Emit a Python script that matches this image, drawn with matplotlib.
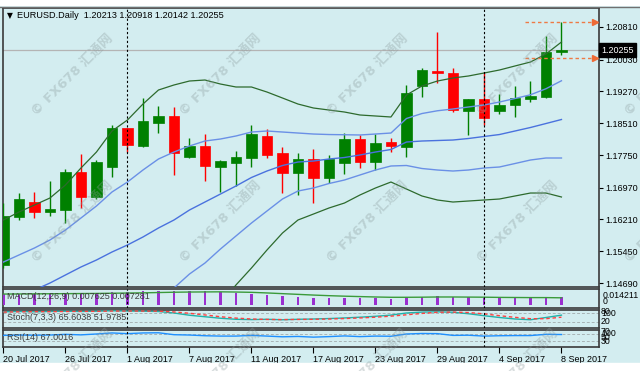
import matplotlib
matplotlib.use("Agg")
import matplotlib.pyplot as plt
import matplotlib.transforms as mtransforms
import numpy as np
import pandas as pd

# ---- data ----
dates = pd.bdate_range("2017-07-20", "2017-09-08")

opens = [1.15122, 1.16269, 1.16628, 1.16389, 1.16436, 1.17345, 1.16747, 1.17464, 1.18396, 1.17966,
         1.18516, 1.18683, 1.17703, 1.17966, 1.17464, 1.17560, 1.17679, 1.18205, 1.17799, 1.17321,
         1.17655, 1.17201, 1.17560, 1.18133, 1.17584, 1.18062, 1.17942, 1.19400, 1.19758, 1.19711,
         1.18802, 1.19089, 1.18802, 1.18946, 1.19089, 1.19137, 1.20213]
highs = [1.16604, 1.16843, 1.16867, 1.17129, 1.17416, 1.17775, 1.17631, 1.18468, 1.18400, 1.19113,
         1.18922, 1.18898, 1.18157, 1.18253, 1.17631, 1.17846, 1.18468, 1.18372, 1.17942, 1.17799,
         1.17894, 1.17751, 1.18277, 1.18229, 1.18253, 1.18157, 1.19424, 1.19830, 1.20691, 1.19830,
         1.19089, 1.19735, 1.19209, 1.19400, 1.19519, 1.20595, 1.20918]
lows = [1.15050, 1.16197, 1.16245, 1.16293, 1.16126, 1.16484, 1.16699, 1.17225, 1.17823, 1.17942,
        1.18277, 1.17273, 1.17679, 1.17129, 1.16867, 1.17010, 1.17464, 1.17679, 1.16843, 1.16795,
        1.16604, 1.17082, 1.17297, 1.17440, 1.17392, 1.17823, 1.17703, 1.19137, 1.19472, 1.18779,
        1.18229, 1.18468, 1.18731, 1.18659, 1.19018, 1.19113, 1.20142]
closes = [1.16293, 1.16699, 1.16389, 1.16460, 1.17345, 1.16747, 1.17584, 1.18396, 1.17990, 1.18563,
          1.18683, 1.17799, 1.17966, 1.17488, 1.17607, 1.17703, 1.18253, 1.17751, 1.17321, 1.17655,
          1.17201, 1.17655, 1.18133, 1.17584, 1.18038, 1.17966, 1.19233, 1.19782, 1.19711, 1.18826,
          1.19089, 1.18635, 1.18946, 1.19113, 1.19161, 1.20213, 1.20255]

# bands (outer dark green, inner blue, middle blue)
band_up2 = [1.16197, 1.16388, 1.16556, 1.16723, 1.17034, 1.17440, 1.17822, 1.18324, 1.18587, 1.18969,
            1.19304, 1.19424, 1.19519, 1.19543, 1.19447, 1.19376, 1.19376, 1.19256, 1.19113, 1.18969,
            1.18874, 1.18826, 1.18778, 1.18707, 1.18683, 1.18659, 1.19185, 1.19400, 1.19519, 1.19591,
            1.19639, 1.19710, 1.19782, 1.19878, 1.19973, 1.20164, 1.20451]
band_up1 = [1.15193, 1.15361, 1.15528, 1.15719, 1.15958, 1.16245, 1.16532, 1.16866, 1.17105, 1.17392,
            1.17655, 1.17822, 1.17966, 1.18085, 1.18133, 1.18205, 1.18300, 1.18324, 1.18300, 1.18276,
            1.18252, 1.18240, 1.18235, 1.18229, 1.18252, 1.18276, 1.18623, 1.18742, 1.18808, 1.18850,
            1.18898, 1.18946, 1.19017, 1.19101, 1.19190, 1.19334, 1.19525]
band_mid = [1.14166, 1.14333, 1.14524, 1.14691, 1.14883, 1.15074, 1.15241, 1.15432, 1.15600, 1.15791,
            1.16006, 1.16197, 1.16436, 1.16627, 1.16818, 1.17010, 1.17213, 1.17368, 1.17500, 1.17583,
            1.17607, 1.17655, 1.17691, 1.17751, 1.17822, 1.17882, 1.18061, 1.18085, 1.18097, 1.18109,
            1.18145, 1.18193, 1.18240, 1.18324, 1.18408, 1.18503, 1.18599]
band_lo1 = [1.13138, 1.13305, 1.13520, 1.13664, 1.13807, 1.13903, 1.13950, 1.13998, 1.14094, 1.14189,
            1.14357, 1.14572, 1.14906, 1.15169, 1.15504, 1.15815, 1.16125, 1.16412, 1.16699, 1.16890,
            1.16962, 1.17069, 1.17153, 1.17273, 1.17392, 1.17488, 1.17500, 1.17428, 1.17392, 1.17368,
            1.17392, 1.17440, 1.17464, 1.17547, 1.17631, 1.17679, 1.17679]
band_lo2 = [1.12134, 1.12277, 1.12493, 1.12660, 1.12732, 1.12708, 1.12660, 1.12540, 1.12612, 1.12612,
            1.12708, 1.12971, 1.13353, 1.13711, 1.14189, 1.14644, 1.15050, 1.15480, 1.15886, 1.16197,
            1.16340, 1.16484, 1.16603, 1.16795, 1.16962, 1.17105, 1.16938, 1.16771, 1.16675, 1.16627,
            1.16651, 1.16675, 1.16699, 1.16771, 1.16842, 1.16842, 1.16747]

macd_main = [0.0112, 0.0113, 0.0114, 0.0116, 0.0118, 0.0120, 0.0122, 0.0126, 0.0130, 0.0136,
             0.0140, 0.0142, 0.0141, 0.0138, 0.0133, 0.0124, 0.0115, 0.0098, 0.0088, 0.0080,
             0.0074, 0.0070, 0.0069, 0.0068, 0.0068, 0.0066, 0.0078, 0.0084, 0.0086, 0.0080,
             0.0076, 0.0074, 0.0072, 0.0073, 0.0073, 0.0075, 0.007625]
macd_signal = [0.0110, 0.0111, 0.0112, 0.0113, 0.0114, 0.0115, 0.0116, 0.0118, 0.0120, 0.0122,
               0.0125, 0.0128, 0.0130, 0.0131, 0.0132, 0.0130, 0.0127, 0.0121, 0.0114, 0.0107,
               0.0100, 0.0094, 0.0089, 0.0085, 0.0081, 0.0078, 0.0078, 0.0079, 0.0081, 0.0081,
               0.0080, 0.0079, 0.0077, 0.0076, 0.0075, 0.0075, 0.007281]
stoch_main = [88, 90, 88, 90, 92, 90, 92, 95, 93, 92, 90, 80, 65, 55, 45, 38, 36, 38, 35, 38,
              40, 43, 47, 52, 58, 66, 80, 86, 88, 85, 75, 62, 50, 40, 35, 50, 65.6]
stoch_signal = [86, 88, 89, 89, 90, 91, 91, 93, 93, 93, 92, 87, 78, 67, 55, 46, 40, 37, 36, 37,
                38, 40, 43, 47, 52, 59, 68, 77, 85, 86, 83, 74, 62, 51, 42, 42, 52.0]
rsi = [62, 64, 63, 64, 68, 65, 70, 76, 72, 76, 77, 66, 64, 60, 58, 58, 62, 58, 54, 56,
       52, 55, 59, 55, 58, 57, 70, 73, 72, 62, 63, 58, 60, 61, 61, 68, 67.0]

price_ticks = [1.20810, 1.20030, 1.19270, 1.18510, 1.17750, 1.16970, 1.16210, 1.15450, 1.14690]
last_price = 1.20255
day_high_line = 1.20918
day_low_line = 1.20080
date_ticks = ["2017-07-20", "2017-07-26", "2017-08-01", "2017-08-07", "2017-08-11",
              "2017-08-17", "2017-08-23", "2017-08-29", "2017-09-04", "2017-09-08"]
month_seps = ["2017-08-01", "2017-09-01"]

# ---- figure ----
BG = "#d3edf0"
W, H = 640, 371
plt.rcParams["font.family"] = ["Liberation Sans", "DejaVu Sans"]
fig = plt.figure(figsize=(6.4, 3.71), dpi=100, facecolor=BG)


def px_axes(x0, y0, x1, y1):
    return fig.add_axes([x0 / W, 1 - y1 / H, (x1 - x0) / W, (y1 - y0) / H])


ax = px_axes(3, 8, 598.5, 287)
ax_macd = px_axes(3, 289, 598.5, 307.5)
ax_sto = px_axes(3, 309.5, 598.5, 327.5)
ax_rsi = px_axes(3, 329.5, 598.5, 347)

x = np.arange(len(dates))
idx = {d: i for i, d in enumerate(dates)}
xlim = (-0.03, 38.39)

for a in (ax, ax_macd, ax_sto, ax_rsi):
    a.set_facecolor(BG)
    a.set_xlim(*xlim)
    for s in a.spines.values():
        s.set_color("#3a3a3a")
        s.set_linewidth(1.2)
    a.tick_params(left=False, labelleft=False, bottom=False, labelbottom=False)
    for d in month_seps:
        a.axvline(idx[pd.Timestamp(d)], color="black", lw=0.8, ls=(0, (2, 2)), zorder=6)

# main chart
o = np.array(opens); c = np.array(closes)
up = c >= o
cols = np.where(up, "#008000", "#ff0000")
ax.axhline(last_price, color="#b4b4b4", lw=0.9, zorder=1)
ax.vlines(x, lows, highs, colors=cols, lw=1.0, zorder=3)
ax.bar(x, np.maximum(np.abs(c - o), 0.00007), bottom=np.minimum(o, c), width=0.68,
       color=cols, edgecolor=cols, linewidth=0.5, zorder=4)
ax.plot(x, band_up2, color="#2d6a2d", lw=0.9, zorder=5)
ax.plot(x, band_lo2, color="#2d6a2d", lw=0.9, zorder=5)
ax.plot(x, band_up1, color="#6a90e6", lw=1.0, zorder=5)
ax.plot(x, band_lo1, color="#6a90e6", lw=1.0, zorder=5)
ax.plot(x, band_mid, color="#4a72de", lw=1.0, zorder=5)

lx = [33.65, 38.05]
for lvl in (day_high_line, day_low_line):
    ax.plot(lx, [lvl, lvl], color="#ee7a45", lw=1.0, ls=(0, (2.5, 2)), zorder=6)
    ax.plot([38.15], [lvl], marker=">", ms=4, color="#ee6a35", zorder=6, clip_on=False)

ax.set_ylim(1.14596, 1.21264)
ax.yaxis.tick_right()
ax.set_yticks(price_ticks, [f"{p:.5f}" for p in price_ticks])
ax.tick_params(axis="y", right=True, labelright=True, length=3, width=0.8, pad=2,
               labelsize=6.5, colors="black")
trans = mtransforms.blended_transform_factory(ax.transAxes, ax.transData)
ax.text(1.0 + 2.5 / 595.5, last_price, f"{last_price:.5f}", transform=trans, ha="left",
        va="center", color="white", fontsize=6.5, zorder=10, clip_on=False,
        bbox=dict(boxstyle="square,pad=0.25", fc="black", ec="black"))

# MACD
ax_macd.bar(x, macd_main, width=0.14, color="#9b30d0", zorder=3)
ax_macd.plot(x, macd_signal, color="#3a9a3a", lw=1.0, zorder=4)
ax_macd.set_ylim(-0.0023, 0.0160)

# Stochastic
ax_sto.axhline(80, color="#a8b4b6", lw=0.7, ls=(0, (3, 2)))
ax_sto.axhline(20, color="#a8b4b6", lw=0.7, ls=(0, (3, 2)))
ax_sto.plot(x, stoch_main, color="#20b2aa", lw=1.0, zorder=3)
ax_sto.plot(x, stoch_signal, color="#ff4040", lw=1.0, ls=(0, (2.5, 2)), zorder=4)
ax_sto.set_ylim(-16.7, 103.3)

# RSI
ax_rsi.axhline(70, color="#a8b4b6", lw=0.7, ls=(0, (3, 2)))
ax_rsi.axhline(30, color="#a8b4b6", lw=0.7, ls=(0, (3, 2)))
ax_rsi.plot(x, rsi, color="#1e90ff", lw=1.0, zorder=3)
ax_rsi.set_ylim(-4.4, 95.7)

tick_pos = [idx[pd.Timestamp(d)] for d in date_ticks]
tick_lab = [pd.Timestamp(d).strftime("%-d %b %Y") for d in date_ticks]
ax_rsi.set_xticks(tick_pos, tick_lab)
ax_rsi.tick_params(axis="x", bottom=True, labelbottom=True, length=4, width=0.8,
                   pad=1.5, labelsize=6.5, colors="black")
for t in ax_rsi.get_xticklabels():
    t.set_ha("left")

# texts in figure pixels
def ftext(px, py, s, **kw):
    fig.text(px / W, 1 - py / H, s, va="center", **kw)

ftext(7, 16, "\u25bc", fontsize=5.5, color="black", family=["DejaVu Sans"])
ftext(17, 16, "EURUSD.Daily  1.20213 1.20918 1.20142 1.20255", fontsize=6.6, color="black")
ftext(7, 296.5, "MACD(12,26,9) 0.007625 0.007281", fontsize=6.5, color="#3c3c3c")
ftext(7, 317.5, "Stoch(7,3,3) 65.6038 51.9785", fontsize=6.5, color="#3c3c3c")
ftext(7, 337.5, "RSI(14) 67.0016", fontsize=6.5, color="#3c3c3c")
for s, py in [("0.014211", 295), ("0", 301)]:
    ftext(603, py, s, fontsize=6.3, color="black")
for s, py in [("80", 312), ("100", 313.5), ("20", 322)]:
    ftext(601, py, s, fontsize=6.3, color="black")
for s, py in [("70", 332), ("100", 333.5), ("50", 337), ("30", 341)]:
    ftext(601, py, s, fontsize=6.3, color="black")

# white margins and top border
fig.patches.append(plt.Rectangle((0, 1 - 5 / H), 1, 5 / H, transform=fig.transFigure,
                                 color="white", zorder=0))
fig.patches.append(plt.Rectangle((0, 0), 1, 8 / H, transform=fig.transFigure,
                                 color="white", zorder=0))
fig.add_artist(plt.Line2D([0, 1], [1 - 6.5 / H] * 2, color="#707070", lw=1.0))

# watermarks
for wy in (75, 222, 370):
    for wx in (72, 220, 367, 517, 665):
        fig.text(wx / W, 1 - wy / H, "\u00a9 FX678 汇通网", rotation=45, ha="center",
                 va="center", rotation_mode="anchor", fontsize=9.5, fontweight="bold",
                 color="#8c9c9e", alpha=0.35, zorder=20,
                 family=["DejaVu Sans", "Noto Sans CJK SC"])

fig.savefig("out.png", dpi=100, facecolor=BG)
